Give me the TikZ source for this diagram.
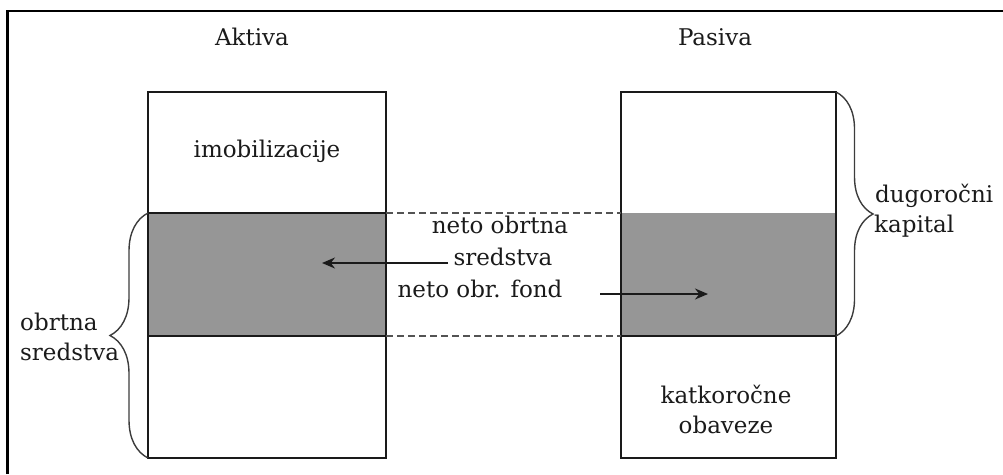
\documentclass[tikz,border=0pt]{standalone}
\usepackage{fontspec}
\setmainfont{DejaVu Serif}
\usetikzlibrary{decorations.pathreplacing,arrows.meta}
\definecolor{band}{HTML}{969696}
\definecolor{ink}{HTML}{1A1A1A}
\begin{document}
\begin{tikzpicture}[x=1pt,y=-1pt,
  lbl/.style={font=\fontsize{23}{30}\selectfont, text=ink, inner sep=0pt, anchor=base},
  lbll/.style={lbl, anchor=base west},
  boxpart/.style={draw=ink, line width=1.8pt, inner sep=0pt, outer sep=0pt, anchor=north west},
  gapline/.style={draw=ink!75, line width=1.8pt, dash pattern=on 7pt off 4pt},
  bracestyle/.style={draw=ink!85, line width=1.4pt, decorate, decoration={brace, amplitude=#1, aspect=0.5}},
  arr/.style={draw=ink, line width=1.6pt, -{Stealth[length=13pt,width=11pt]}}]
\useasboundingbox (0,0) rectangle (1003,474);
% frame
\draw[line width=2.6pt, black] (7.5,474) -- (7.5,11) -- (1003,11);
% left column
\node[boxpart, minimum width=238pt, minimum height=121pt] (ltop) at (148,92) {};
\node[boxpart, fill=band, minimum width=238pt, minimum height=123pt] (lmid) at (148,213) {};
\node[boxpart, minimum width=238pt, minimum height=122pt] (lbot) at (148,336) {};
% right column
\node[inner sep=0pt, outer sep=0pt, anchor=north west, fill=band, minimum width=215pt, minimum height=123pt] (rmid) at (621,213) {};
\node[boxpart, minimum width=215pt, minimum height=366pt] (rcol) at (621,92) {};
\draw[ink, line width=1.8pt] (rmid.south west) -- (rmid.south east);
% dashed connection lines
\draw[gapline] (lmid.north east) -- (rmid.north west);
\draw[gapline] (lmid.south east) -- (rmid.south west);
% braces
\draw[bracestyle=38pt] (lbot.south west) -- (lmid.north west);
\draw[bracestyle=37pt] (rcol.north east) -- (rmid.south east);
% labels
\node[lbl] (aktiva) at (252,45) {Aktiva};
\node[lbl] (pasiva) at (715,45) {Pasiva};
\node[lbl] (imob) at (267,157) {imobilizacije};
\node[lbl] (neto1) at (500,233) {neto obrtna};
\node[lbl] (sred) at (503,265) {sredstva};
\node[lbl] (fond) at (480,297) {neto obr. fond};
\node[lbll] (obr1) at (20,330) {obrtna};
\node[lbll] (obr2) at (20,360) {sredstva};
\node[lbll] (dug1) at (875,202) {dugoročni};
\node[lbll] (dug2) at (874,232) {kapital};
\node[lbl] (kat1) at (726,403) {katkoročne};
\node[lbl] (kat2) at (726,433) {obaveze};
% arrows
\coordinate (lend) at (322,263);
\coordinate (lstart) at (448,263);
\coordinate (rstart) at (600,294);
\coordinate (rend) at (708,294);
\draw[arr] (lstart) -- (lend);
\draw[arr] (rstart) -- (rend);
\end{tikzpicture}
\end{document}
